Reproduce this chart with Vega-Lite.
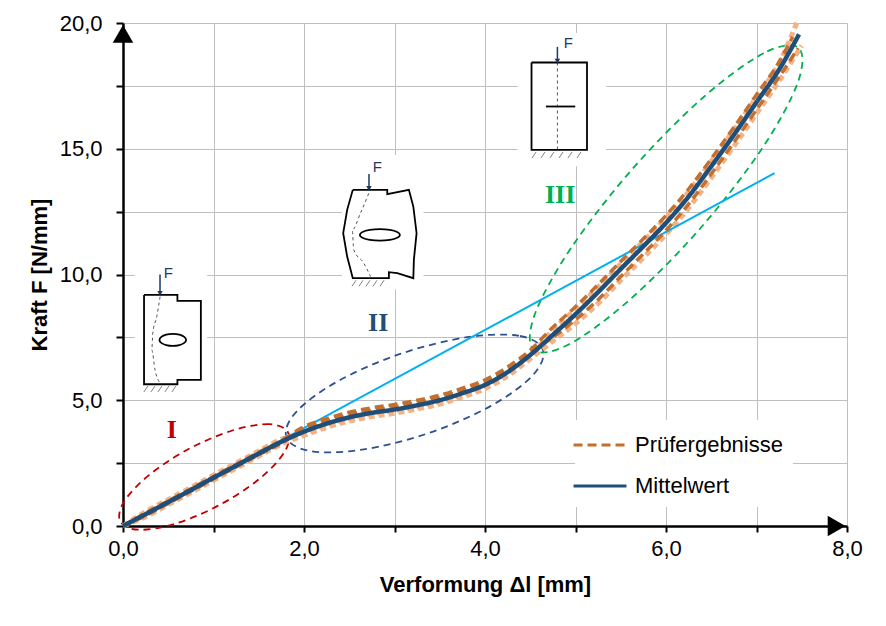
{
  "$schema": "https://vega.github.io/schema/vega-lite/v6.json",
  "width": 724,
  "height": 503,
  "autosize": "none",
  "padding": {"left": 123, "top": 23, "right": 39, "bottom": 100},
  "background": "white",
  "config": {
    "font": "Liberation Sans",
    "view": {"stroke": null},
    "axis": {
      "domainColor": "black",
      "domainWidth": 2.5,
      "tickColor": "black",
      "tickWidth": 2,
      "labelFontSize": 22,
      "labelColor": "black",
      "labelFlush": false,
      "labelOverlap": false,
      "titleFontSize": 22,
      "titleFontWeight": "bold",
      "titleColor": "black",
      "gridColor": "#BFBFBF",
      "gridWidth": 1
    }
  },
  "datasets": {
    "curves": [
      {"r": "L1", "x": 0, "F": 0}, {"r": "L1", "x": 0.25, "F": 0.57}, {"r": "L1", "x": 0.5, "F": 1.05}, {"r": "L1", "x": 0.75, "F": 1.53}, {"r": "L1", "x": 1.0, "F": 2.02}, {"r": "L1", "x": 1.25, "F": 2.5}, {"r": "L1", "x": 1.5, "F": 2.98}, {"r": "L1", "x": 1.75, "F": 3.45},
      {"r": "L1", "x": 2.0, "F": 3.7}, {"r": "L1", "x": 2.25, "F": 4.02}, {"r": "L1", "x": 2.5, "F": 4.27}, {"r": "L1", "x": 2.75, "F": 4.45}, {"r": "L1", "x": 3.0, "F": 4.58}, {"r": "L1", "x": 3.25, "F": 4.75}, {"r": "L1", "x": 3.5, "F": 4.95}, {"r": "L1", "x": 3.75, "F": 5.23}, {"r": "L1", "x": 4.0, "F": 5.56}, {"r": "L1", "x": 4.25, "F": 6.07}, {"r": "L1", "x": 4.5, "F": 6.75},
      {"r": "L1", "x": 4.75, "F": 7.8}, {"r": "L1", "x": 5.0, "F": 8.62}, {"r": "L1", "x": 5.25, "F": 9.5}, {"r": "L1", "x": 5.5, "F": 10.42}, {"r": "L1", "x": 5.75, "F": 11.32}, {"r": "L1", "x": 6.0, "F": 12.25}, {"r": "L1", "x": 6.25, "F": 13.3}, {"r": "L1", "x": 6.5, "F": 14.5}, {"r": "L1", "x": 6.75, "F": 15.75}, {"r": "L1", "x": 7.0, "F": 17.05}, {"r": "L1", "x": 7.25, "F": 18.4}, {"r": "L1", "x": 7.45, "F": 20.05},
      {"r": "L2", "x": 0, "F": 0}, {"r": "L2", "x": 0.25, "F": 0.37}, {"r": "L2", "x": 0.5, "F": 0.85}, {"r": "L2", "x": 0.75, "F": 1.33}, {"r": "L2", "x": 1.0, "F": 1.82}, {"r": "L2", "x": 1.25, "F": 2.3}, {"r": "L2", "x": 1.5, "F": 2.78}, {"r": "L2", "x": 1.75, "F": 3.25},
      {"r": "L2", "x": 2.0, "F": 3.6}, {"r": "L2", "x": 2.25, "F": 3.92}, {"r": "L2", "x": 2.5, "F": 4.17}, {"r": "L2", "x": 2.75, "F": 4.35}, {"r": "L2", "x": 3.0, "F": 4.48}, {"r": "L2", "x": 3.25, "F": 4.65}, {"r": "L2", "x": 3.5, "F": 4.85}, {"r": "L2", "x": 3.75, "F": 5.13}, {"r": "L2", "x": 4.0, "F": 5.46}, {"r": "L2", "x": 4.25, "F": 5.97}, {"r": "L2", "x": 4.5, "F": 6.65},
      {"r": "L2", "x": 4.75, "F": 7.35}, {"r": "L2", "x": 5.0, "F": 8.05}, {"r": "L2", "x": 5.25, "F": 8.85}, {"r": "L2", "x": 5.5, "F": 9.77}, {"r": "L2", "x": 5.75, "F": 10.67}, {"r": "L2", "x": 6.0, "F": 11.6}, {"r": "L2", "x": 6.25, "F": 12.65}, {"r": "L2", "x": 6.5, "F": 13.85}, {"r": "L2", "x": 6.75, "F": 15.1}, {"r": "L2", "x": 7.0, "F": 16.4}, {"r": "L2", "x": 7.25, "F": 17.7}, {"r": "L2", "x": 7.5, "F": 19.1},
      {"r": "D1", "x": 0, "F": 0}, {"r": "D1", "x": 0.25, "F": 0.52}, {"r": "D1", "x": 0.5, "F": 1.0}, {"r": "D1", "x": 0.75, "F": 1.48}, {"r": "D1", "x": 1.0, "F": 1.97}, {"r": "D1", "x": 1.25, "F": 2.45}, {"r": "D1", "x": 1.5, "F": 2.93}, {"r": "D1", "x": 1.75, "F": 3.4},
      {"r": "D1", "x": 2.0, "F": 3.95}, {"r": "D1", "x": 2.25, "F": 4.27}, {"r": "D1", "x": 2.5, "F": 4.52}, {"r": "D1", "x": 2.75, "F": 4.7}, {"r": "D1", "x": 3.0, "F": 4.83}, {"r": "D1", "x": 3.25, "F": 5.0}, {"r": "D1", "x": 3.5, "F": 5.2}, {"r": "D1", "x": 3.75, "F": 5.48}, {"r": "D1", "x": 4.0, "F": 5.81}, {"r": "D1", "x": 4.25, "F": 6.32}, {"r": "D1", "x": 4.5, "F": 7.0},
      {"r": "D1", "x": 4.75, "F": 7.9}, {"r": "D1", "x": 5.0, "F": 8.72}, {"r": "D1", "x": 5.25, "F": 9.6}, {"r": "D1", "x": 5.5, "F": 10.52}, {"r": "D1", "x": 5.75, "F": 11.42}, {"r": "D1", "x": 6.0, "F": 12.35}, {"r": "D1", "x": 6.25, "F": 13.4}, {"r": "D1", "x": 6.5, "F": 14.6}, {"r": "D1", "x": 6.75, "F": 15.85}, {"r": "D1", "x": 7.0, "F": 17.15}, {"r": "D1", "x": 7.25, "F": 18.45}, {"r": "D1", "x": 7.4, "F": 19.45},
      {"r": "D2", "x": 0, "F": 0}, {"r": "D2", "x": 0.25, "F": 0.42}, {"r": "D2", "x": 0.5, "F": 0.9}, {"r": "D2", "x": 0.75, "F": 1.38}, {"r": "D2", "x": 1.0, "F": 1.87}, {"r": "D2", "x": 1.25, "F": 2.35}, {"r": "D2", "x": 1.5, "F": 2.83}, {"r": "D2", "x": 1.75, "F": 3.3},
      {"r": "D2", "x": 2.0, "F": 3.85}, {"r": "D2", "x": 2.25, "F": 4.17}, {"r": "D2", "x": 2.5, "F": 4.42}, {"r": "D2", "x": 2.75, "F": 4.6}, {"r": "D2", "x": 3.0, "F": 4.73}, {"r": "D2", "x": 3.25, "F": 4.9}, {"r": "D2", "x": 3.5, "F": 5.1}, {"r": "D2", "x": 3.75, "F": 5.38}, {"r": "D2", "x": 4.0, "F": 5.71}, {"r": "D2", "x": 4.25, "F": 6.22}, {"r": "D2", "x": 4.5, "F": 6.9},
      {"r": "D2", "x": 4.75, "F": 7.5}, {"r": "D2", "x": 5.0, "F": 8.2}, {"r": "D2", "x": 5.25, "F": 9.0}, {"r": "D2", "x": 5.5, "F": 9.92}, {"r": "D2", "x": 5.75, "F": 10.82}, {"r": "D2", "x": 6.0, "F": 11.75}, {"r": "D2", "x": 6.25, "F": 12.8}, {"r": "D2", "x": 6.5, "F": 14.0}, {"r": "D2", "x": 6.75, "F": 15.25}, {"r": "D2", "x": 7.0, "F": 16.55}, {"r": "D2", "x": 7.25, "F": 17.85}, {"r": "D2", "x": 7.46, "F": 19.0},
      {"r": "MW", "x": 0, "F": 0}, {"r": "MW", "x": 0.25, "F": 0.47}, {"r": "MW", "x": 0.5, "F": 0.95}, {"r": "MW", "x": 0.75, "F": 1.43}, {"r": "MW", "x": 1.0, "F": 1.92}, {"r": "MW", "x": 1.25, "F": 2.4}, {"r": "MW", "x": 1.5, "F": 2.88}, {"r": "MW", "x": 1.75, "F": 3.35},
      {"r": "MW", "x": 2.0, "F": 3.75}, {"r": "MW", "x": 2.25, "F": 4.07}, {"r": "MW", "x": 2.5, "F": 4.32}, {"r": "MW", "x": 2.75, "F": 4.5}, {"r": "MW", "x": 3.0, "F": 4.63}, {"r": "MW", "x": 3.25, "F": 4.8}, {"r": "MW", "x": 3.5, "F": 5.0}, {"r": "MW", "x": 3.75, "F": 5.28}, {"r": "MW", "x": 4.0, "F": 5.61}, {"r": "MW", "x": 4.25, "F": 6.12}, {"r": "MW", "x": 4.5, "F": 6.8},
      {"r": "MW", "x": 4.75, "F": 7.6}, {"r": "MW", "x": 5.0, "F": 8.42}, {"r": "MW", "x": 5.25, "F": 9.3}, {"r": "MW", "x": 5.5, "F": 10.22}, {"r": "MW", "x": 5.75, "F": 11.12}, {"r": "MW", "x": 6.0, "F": 12.05}, {"r": "MW", "x": 6.25, "F": 13.1}, {"r": "MW", "x": 6.5, "F": 14.3}, {"r": "MW", "x": 6.75, "F": 15.55}, {"r": "MW", "x": 7.0, "F": 16.85}, {"r": "MW", "x": 7.25, "F": 18.15}, {"r": "MW", "x": 7.47, "F": 19.55}
    ],
    "ellipses": [
      {"e": "I", "i": 0, "x": 1.823, "F": 3.725}, {"e": "I", "i": 1, "x": 1.616, "F": 4.047}, {"e": "I", "i": 2, "x": 1.216, "F": 3.807}, {"e": "I", "i": 3, "x": 0.73, "F": 3.069}, {"e": "I", "i": 4, "x": 0.29, "F": 2.033}, {"e": "I", "i": 5, "x": 0.012, "F": 0.971}, {"e": "I", "i": 6, "x": -0.029, "F": 0.173}, {"e": "I", "i": 7, "x": 0.178, "F": -0.149}, {"e": "I", "i": 8, "x": 0.578, "F": 0.091}, {"e": "I", "i": 9, "x": 1.063, "F": 0.829}, {"e": "I", "i": 10, "x": 1.504, "F": 1.866}, {"e": "I", "i": 11, "x": 1.782, "F": 2.928},
      {"e": "II", "i": 0, "x": 4.64, "F": 7.001}, {"e": "II", "i": 1, "x": 4.375, "F": 7.562}, {"e": "II", "i": 2, "x": 3.801, "F": 7.506}, {"e": "II", "i": 3, "x": 3.073, "F": 6.854}, {"e": "II", "i": 4, "x": 2.384, "F": 5.776}, {"e": "II", "i": 5, "x": 1.92, "F": 4.562}, {"e": "II", "i": 6, "x": 1.805, "F": 3.54}, {"e": "II", "i": 7, "x": 2.07, "F": 2.979}, {"e": "II", "i": 8, "x": 2.643, "F": 3.035}, {"e": "II", "i": 9, "x": 3.372, "F": 3.687}, {"e": "II", "i": 10, "x": 4.06, "F": 4.765}, {"e": "II", "i": 11, "x": 4.524, "F": 5.978},
      {"e": "III", "i": 0, "x": 7.463, "F": 19.013}, {"e": "III", "i": 1, "x": 7.08, "F": 18.799}, {"e": "III", "i": 2, "x": 6.407, "F": 17.029}, {"e": "III", "i": 3, "x": 5.626, "F": 14.185}, {"e": "III", "i": 4, "x": 4.945, "F": 11.022}, {"e": "III", "i": 5, "x": 4.548, "F": 8.393}, {"e": "III", "i": 6, "x": 4.54, "F": 7.001}, {"e": "III", "i": 7, "x": 4.924, "F": 7.216}, {"e": "III", "i": 8, "x": 5.596, "F": 8.986}, {"e": "III", "i": 9, "x": 6.377, "F": 11.83}, {"e": "III", "i": 10, "x": 7.058, "F": 14.992}, {"e": "III", "i": 11, "x": 7.455, "F": 17.621}
    ],
    "sketchbg": [
      {"x": 0.13, "x2": 0.93, "F": 10.45, "F2": 5.2},
      {"x": 2.42, "x2": 3.32, "F": 14.75, "F2": 9.4},
      {"x": 4.36, "x2": 5.34, "F": 19.6, "F2": 14.3}
    ],
    "outlines": [
      {"s": "A", "i": 0, "x": 0.2325, "F": 9.189}, {"s": "A", "i": 1, "x": 0.6013, "F": 9.189}, {"s": "A", "i": 2, "x": 0.6013, "F": 8.95}, {"s": "A", "i": 3, "x": 0.8604, "F": 8.95}, {"s": "A", "i": 4, "x": 0.8604, "F": 5.807}, {"s": "A", "i": 5, "x": 0.6013, "F": 5.807}, {"s": "A", "i": 6, "x": 0.6013, "F": 5.636}, {"s": "A", "i": 7, "x": 0.2325, "F": 5.636}, {"s": "A", "i": 8, "x": 0.2325, "F": 9.189},
      {"s": "B", "i": 0, "x": 2.539, "F": 13.365}, {"s": "B", "i": 1, "x": 2.92, "F": 13.365}, {"s": "B", "i": 2, "x": 2.92, "F": 13.194}, {"s": "B", "i": 3, "x": 3.159, "F": 13.365}, {"s": "B", "i": 4, "x": 3.208, "F": 12.701}, {"s": "B", "i": 5, "x": 3.244, "F": 11.643}, {"s": "B", "i": 6, "x": 3.214, "F": 10.581}, {"s": "B", "i": 7, "x": 3.208, "F": 9.853}, {"s": "B", "i": 8, "x": 3.031, "F": 10.052}, {"s": "B", "i": 9, "x": 2.938, "F": 10.092}, {"s": "B", "i": 10, "x": 2.938, "F": 9.853}, {"s": "B", "i": 11, "x": 2.539, "F": 9.853}, {"s": "B", "i": 12, "x": 2.477, "F": 10.712}, {"s": "B", "i": 13, "x": 2.433, "F": 11.643}, {"s": "B", "i": 14, "x": 2.477, "F": 12.57}, {"s": "B", "i": 15, "x": 2.539, "F": 13.365},
      {"s": "C", "i": 0, "x": 4.514, "F": 18.43}, {"s": "C", "i": 1, "x": 5.127, "F": 18.43}, {"s": "C", "i": 2, "x": 5.127, "F": 14.956}, {"s": "C", "i": 3, "x": 4.514, "F": 14.956}, {"s": "C", "i": 4, "x": 4.514, "F": 18.43},
      {"s": "D", "i": 0, "x": 4.673, "F": 16.68}, {"s": "D", "i": 1, "x": 4.997, "F": 16.68}
    ],
    "holes": [
      {"h": "A", "i": 0, "x": 0.697, "F": 7.399}, {"h": "A", "i": 1, "x": 0.677, "F": 7.519}, {"h": "A", "i": 2, "x": 0.624, "F": 7.606}, {"h": "A", "i": 3, "x": 0.55, "F": 7.638}, {"h": "A", "i": 4, "x": 0.477, "F": 7.606}, {"h": "A", "i": 5, "x": 0.423, "F": 7.519}, {"h": "A", "i": 6, "x": 0.403, "F": 7.399}, {"h": "A", "i": 7, "x": 0.423, "F": 7.28}, {"h": "A", "i": 8, "x": 0.477, "F": 7.192}, {"h": "A", "i": 9, "x": 0.55, "F": 7.16}, {"h": "A", "i": 10, "x": 0.624, "F": 7.192}, {"h": "A", "i": 11, "x": 0.677, "F": 7.28},
      {"h": "B", "i": 0, "x": 3.06, "F": 11.575}, {"h": "B", "i": 1, "x": 3.03, "F": 11.689}, {"h": "B", "i": 2, "x": 2.949, "F": 11.772}, {"h": "B", "i": 3, "x": 2.838, "F": 11.802}, {"h": "B", "i": 4, "x": 2.727, "F": 11.772}, {"h": "B", "i": 5, "x": 2.646, "F": 11.689}, {"h": "B", "i": 6, "x": 2.617, "F": 11.575}, {"h": "B", "i": 7, "x": 2.646, "F": 11.462}, {"h": "B", "i": 8, "x": 2.727, "F": 11.379}, {"h": "B", "i": 9, "x": 2.838, "F": 11.348}, {"h": "B", "i": 10, "x": 2.949, "F": 11.379}, {"h": "B", "i": 11, "x": 3.03, "F": 11.462}
    ],
    "cracks": [
      {"c": "A", "i": 0, "x": 0.41, "F": 9.12}, {"c": "A", "i": 1, "x": 0.373, "F": 8.33}, {"c": "A", "i": 2, "x": 0.329, "F": 7.67}, {"c": "A", "i": 3, "x": 0.318, "F": 7.0}, {"c": "A", "i": 4, "x": 0.354, "F": 6.2}, {"c": "A", "i": 5, "x": 0.41, "F": 5.68},
      {"c": "B", "i": 0, "x": 2.716, "F": 13.23}, {"c": "B", "i": 1, "x": 2.624, "F": 12.44}, {"c": "B", "i": 2, "x": 2.533, "F": 11.77}, {"c": "B", "i": 3, "x": 2.55, "F": 10.98}, {"c": "B", "i": 4, "x": 2.661, "F": 10.45}, {"c": "B", "i": 5, "x": 2.735, "F": 9.92},
      {"c": "C", "i": 0, "x": 4.8, "F": 18.43}, {"c": "C", "i": 1, "x": 4.8, "F": 14.96}
    ],
    "hatches": [
      {"x": 0.276, "x2": 0.231, "F": 5.57, "F2": 5.33}, {"x": 0.354, "x2": 0.309, "F": 5.57, "F2": 5.33}, {"x": 0.431, "x2": 0.386, "F": 5.57, "F2": 5.33}, {"x": 0.508, "x2": 0.463, "F": 5.57, "F2": 5.33}, {"x": 0.586, "x2": 0.541, "F": 5.57, "F2": 5.33},
      {"x": 2.575, "x2": 2.53, "F": 9.77, "F2": 9.53}, {"x": 2.652, "x2": 2.607, "F": 9.77, "F2": 9.53}, {"x": 2.729, "x2": 2.684, "F": 9.77, "F2": 9.53}, {"x": 2.807, "x2": 2.762, "F": 9.77, "F2": 9.53}, {"x": 2.884, "x2": 2.839, "F": 9.77, "F2": 9.53},
      {"x": 4.564, "x2": 4.519, "F": 14.87, "F2": 14.63}, {"x": 4.663, "x2": 4.618, "F": 14.87, "F2": 14.63}, {"x": 4.762, "x2": 4.717, "F": 14.87, "F2": 14.63}, {"x": 4.862, "x2": 4.817, "F": 14.87, "F2": 14.63}, {"x": 4.961, "x2": 4.916, "F": 14.87, "F2": 14.63}, {"x": 5.061, "x2": 5.016, "F": 14.87, "F2": 14.63}
    ],
    "forces": [
      {"x": 0.409, "F": 10.0, "F2": 9.25, "tx": 0.5, "ty": 10.05},
      {"x": 2.718, "F": 14.0, "F2": 13.42, "tx": 2.81, "ty": 14.29},
      {"x": 4.8, "F": 19.05, "F2": 18.48, "tx": 4.92, "ty": 19.2}
    ]
  },
  "encoding": {
    "x": {
      "field": "x",
      "type": "quantitative",
      "scale": {"domain": [0, 8], "nice": false, "zero": false},
      "axis": {
        "title": "Verformung Δl [mm]",
        "values": [0, 1, 2, 3, 4, 5, 6, 7, 8],
        "labelExpr": "datum.value % 2 === 0 ? replace(format(datum.value, '.1f'), '.', ',') : ''",
        "tickSize": 6,
        "labelPadding": 6,
        "titlePadding": 15,
        "grid": true
      }
    },
    "y": {
      "field": "F",
      "type": "quantitative",
      "scale": {"domain": [0, 20], "nice": false},
      "axis": {
        "title": "Kraft F [N/mm]",
        "values": [0, 2.5, 5, 7.5, 10, 12.5, 15, 17.5, 20],
        "labelExpr": "datum.value % 5 === 0 ? replace(format(datum.value, '.1f'), '.', ',') : ''",
        "tickSize": 7,
        "labelPadding": 14,
        "titlePadding": 8,
        "grid": true
      }
    }
  },
  "layer": [
    {
      "data": {"name": "sketchbg"},
      "mark": {"type": "rect", "fill": "white"},
      "encoding": {"x2": {"field": "x2"}, "y2": {"field": "F2"}}
    },
    {
      "data": {"name": "hatches"},
      "mark": {"type": "rule", "color": "#7f7f7f", "strokeWidth": 1},
      "encoding": {"x2": {"field": "x2"}, "y2": {"field": "F2"}}
    },
    {
      "data": {"name": "cracks"},
      "mark": {"type": "line", "color": "#555555", "strokeWidth": 1, "strokeDash": [3, 3], "interpolate": "monotone"},
      "encoding": {"detail": {"field": "c"}, "order": {"field": "i"}}
    },
    {
      "data": {"name": "outlines"},
      "mark": {"type": "line", "color": "black", "strokeWidth": 1.8},
      "encoding": {"detail": {"field": "s"}, "order": {"field": "i"}}
    },
    {
      "data": {"name": "holes"},
      "mark": {"type": "line", "color": "black", "strokeWidth": 1.8, "interpolate": "cardinal-closed"},
      "encoding": {"detail": {"field": "h"}, "order": {"field": "i"}}
    },
    {
      "data": {"name": "forces"},
      "mark": {"type": "rule", "color": "#1F3864", "strokeWidth": 1.5},
      "encoding": {"y2": {"field": "F2"}}
    },
    {
      "data": {"name": "forces"},
      "mark": {"type": "point", "shape": "triangle-down", "filled": true, "color": "#1F3864", "size": 30, "opacity": 1},
      "encoding": {"y": {"field": "F2", "type": "quantitative"}}
    },
    {
      "data": {"name": "forces"},
      "mark": {"type": "text", "text": "F", "fontSize": 15, "color": "#1F3864"},
      "encoding": {"x": {"field": "tx", "type": "quantitative"}, "y": {"field": "ty", "type": "quantitative"}}
    },
    {
      "data": {"name": "ellipses"},
      "mark": {"type": "line", "strokeWidth": 1.8, "strokeDash": [7, 5], "interpolate": "cardinal-closed"},
      "encoding": {
        "stroke": {"field": "e", "type": "nominal", "scale": {"domain": ["I", "II", "III"], "range": ["#C00000", "#2F528F", "#00B050"]}, "legend": null},
        "order": {"field": "i"}
      }
    },
    {
      "data": {"name": "curves"},
      "transform": [{"filter": {"field": "r", "oneOf": ["L1", "L2"]}}],
      "mark": {"type": "line", "color": "#F4B183", "strokeWidth": 5, "strokeDash": [6, 4], "interpolate": "monotone"},
      "encoding": {"detail": {"field": "r"}}
    },
    {
      "data": {"values": [{"x": 0, "F": 0}, {"x": 7.2, "F": 14.03}]},
      "mark": {"type": "line", "color": "#00B0F0", "strokeWidth": 2},
      "encoding": {}
    },
    {
      "data": {"name": "curves"},
      "transform": [{"filter": {"field": "r", "oneOf": ["D1", "D2"]}}],
      "mark": {"type": "line", "strokeWidth": 3.5, "interpolate": "monotone"},
      "encoding": {
        "detail": {"field": "r"},
        "color": {
          "field": "r", "type": "nominal",
          "scale": {"domain": ["D1", "D2", "MW"], "range": ["#C46F2E", "#C46F2E", "#1F4E79"]},
          "legend": {"title": null, "orient": "none", "legendX": 452, "legendY": 397, "values": ["D1", "MW"], "labelExpr": "datum.value == 'MW' ? 'Mittelwert' : 'Prüfergebnisse'", "symbolType": "M-2,0H2", "symbolSize": 700, "symbolStrokeWidth": 3, "labelFontSize": 22, "labelColor": "black", "fillColor": "white", "padding": 10, "rowPadding": 15, "labelOffset": 20}
        },
        "strokeDash": {
          "field": "r", "type": "nominal",
          "scale": {"domain": ["D1", "D2", "MW"], "range": [[9, 5], [9, 5], [1, 0]]},
          "legend": {"title": null, "orient": "none", "legendX": 452, "legendY": 397, "values": ["D1", "MW"], "labelExpr": "datum.value == 'MW' ? 'Mittelwert' : 'Prüfergebnisse'", "symbolType": "M-2,0H2", "symbolSize": 700, "symbolStrokeWidth": 3, "labelFontSize": 22, "labelColor": "black", "fillColor": "white", "padding": 10, "rowPadding": 15, "labelOffset": 20}
        }
      }
    },
    {
      "data": {"name": "curves"},
      "transform": [{"filter": {"field": "r", "equal": "MW"}}],
      "mark": {"type": "line", "strokeWidth": 4.5, "interpolate": "monotone"},
      "encoding": {
        "color": {"field": "r", "type": "nominal"},
        "strokeDash": {"field": "r", "type": "nominal"}
      }
    },
    {
      "data": {"values": [{"lab": "I", "x": 0.538, "F": 3.82}, {"lab": "II", "x": 2.82, "F": 8.07}, {"lab": "III", "x": 4.83, "F": 13.17}]},
      "mark": {"type": "text", "font": "Liberation Serif", "fontWeight": "bold", "fontSize": 26},
      "encoding": {
        "text": {"field": "lab"},
        "fill": {"field": "lab", "type": "nominal", "scale": {"domain": ["I", "II", "III"], "range": ["#C00000", "#1F4E79", "#00B050"]}, "legend": null}
      }
    },
    {
      "data": {"values": [{"x": 0, "F": 19.57}]},
      "mark": {"type": "point", "shape": "triangle-up", "filled": true, "color": "black", "size": 420, "opacity": 1}
    },
    {
      "data": {"values": [{"x": 7.885, "F": 0}]},
      "mark": {"type": "point", "shape": "triangle-right", "filled": true, "color": "black", "size": 420, "opacity": 1}
    }
  ]
}
